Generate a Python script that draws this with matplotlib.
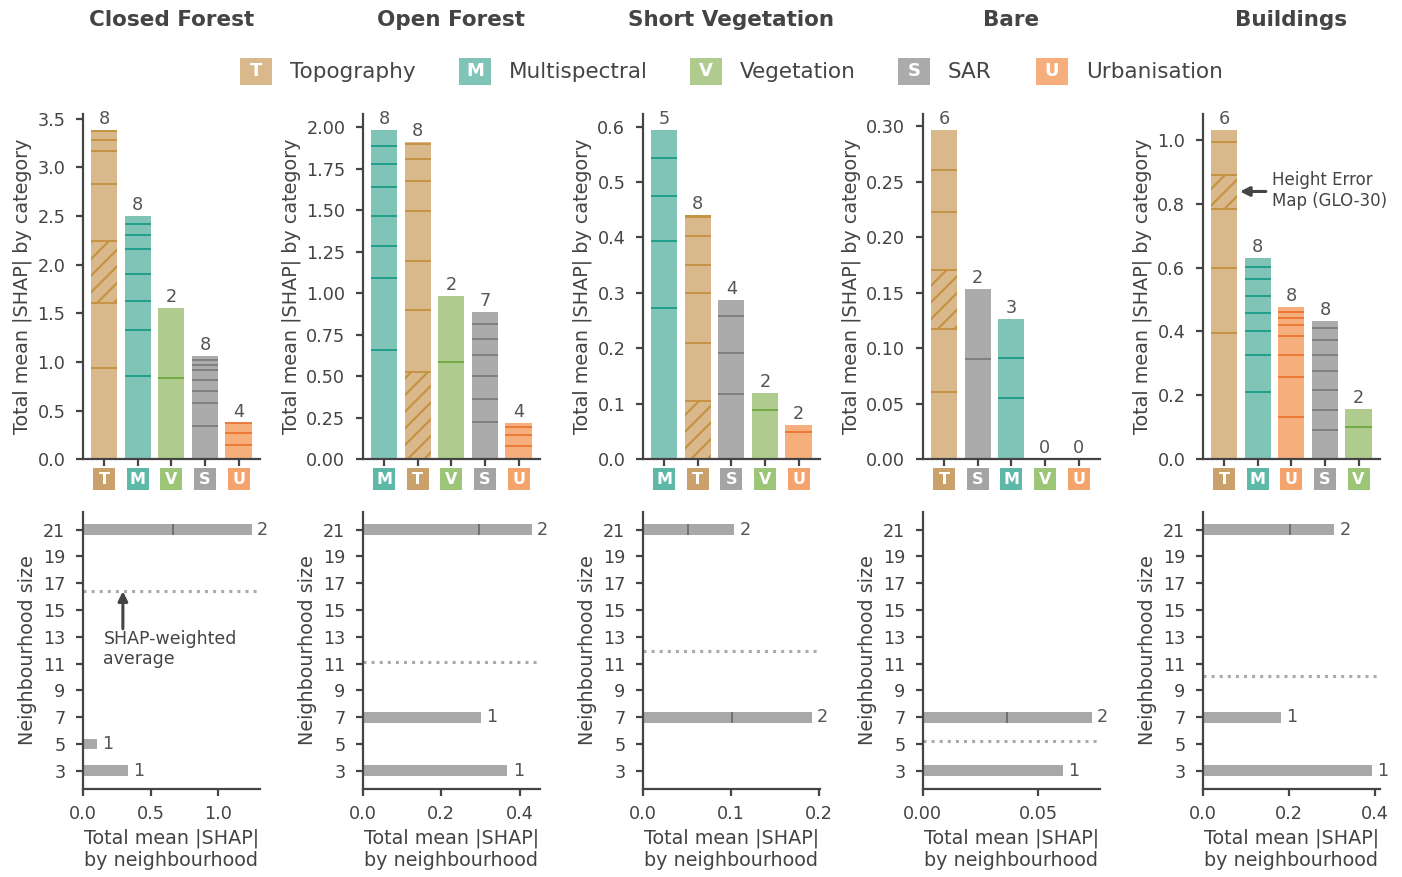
import numpy as np
import matplotlib
matplotlib.use("Agg")
import matplotlib.pyplot as plt
from matplotlib.patches import Rectangle
from matplotlib.transforms import blended_transform_factory

TXT = "#444444"
plt.rcParams.update({
    "font.family": ["DejaVu Sans"],
    "text.color": TXT, "axes.labelcolor": TXT,
    "xtick.color": TXT, "ytick.color": TXT,
    "axes.edgecolor": TXT, "axes.linewidth": 1.6,
    "xtick.major.width": 1.6, "ytick.major.width": 1.6,
    "xtick.major.size": 5, "ytick.major.size": 5,
    "xtick.major.pad": 6.5, "ytick.major.pad": 7.5,
    "xtick.labelsize": 12.7, "ytick.labelsize": 12.7,
    "axes.labelsize": 13.8,
    "hatch.linewidth": 1.5,
})

# ---------------- data ----------------
panel_titles = ["Closed Forest", "Open Forest", "Short Vegetation", "Bare", "Buildings"]
cat_letters = ["T", "M", "V", "S", "U"]
cat_names = ["Topography", "Multispectral", "Vegetation", "SAR", "Urbanisation"]

# category order per panel
order_cf = ["T", "M", "V", "S", "U"]
order_of = ["M", "T", "V", "S", "U"]
order_sv = ["M", "T", "S", "V", "U"]
order_ba = ["T", "S", "M", "V", "U"]
order_bu = ["T", "M", "U", "S", "V"]

# per-feature mean |SHAP| (stacked segments, bottom to top)
cf_T = [0.938, 0.669, 0.631, 0.590, 0.338, 0.109, 0.095, 0.008]
cf_M = [0.853, 0.474, 0.297, 0.280, 0.259, 0.137, 0.119, 0.078]
cf_V = [0.839, 0.717]
cf_S = [0.345, 0.235, 0.123, 0.116, 0.102, 0.051, 0.045, 0.044]
cf_U = [0.143, 0.130, 0.095, 0.007]

of_T = [0.524, 0.372, 0.298, 0.300, 0.180, 0.136, 0.090, 0.008]
of_M = [0.660, 0.434, 0.190, 0.180, 0.176, 0.138, 0.108, 0.094]
of_V = [0.588, 0.396]
of_S = [0.222, 0.144, 0.138, 0.126, 0.094, 0.088, 0.072]
of_U = [0.080, 0.066, 0.050, 0.020]

sv_T = [0.105, 0.104, 0.091, 0.051, 0.052, 0.034, 0.002, 0.002]
sv_M = [0.273, 0.120, 0.082, 0.069, 0.049]
sv_V = [0.089, 0.030]
sv_S = [0.117, 0.075, 0.067, 0.028]
sv_U = [0.050, 0.012]

ba_T = [0.061, 0.056, 0.053, 0.053, 0.037, 0.036]
ba_M = [0.0548, 0.0368, 0.0344]
ba_V = []
ba_S = [0.090, 0.063]
ba_U = []

bu_T = [0.396, 0.204, 0.183, 0.106, 0.105, 0.035]
bu_M = [0.210, 0.115, 0.075, 0.057, 0.054, 0.053, 0.039, 0.027]
bu_V = [0.101, 0.055]
bu_S = [0.0915, 0.0635, 0.061, 0.061, 0.050, 0.047, 0.037, 0.0225]
bu_U = [0.131, 0.125, 0.069, 0.062, 0.033, 0.023, 0.0175, 0.0155]

# hatched segment = Height Error Map (GLO-30), index within Topography stack
hatch_idx = [2, 0, 0, 2, 3]

# neighbourhood sizes and per-feature |SHAP| by neighbourhood
nb_sizes = [3, 5, 7, 9, 11, 13, 15, 17, 19, 21]
nb_cf = {21: [0.665, 0.579], 5: [0.103], 3: [0.333]}
nb_of = {21: [0.295, 0.135], 7: [0.300], 3: [0.368]}
nb_sv = {21: [0.0519, 0.0515], 7: [0.1019, 0.0898]}
nb_ba = {7: [0.0367, 0.0364], 3: [0.0607]}
nb_bu = {21: [0.202, 0.1026], 7: [0.181], 3: [0.392]}

# ---------------- styles ----------------
box_col = {"T": "#caa16b", "M": "#5db8a8", "V": "#9cc577", "S": "#a4a4a4", "U": "#f5a36d"}
bar_col = {"T": "#d9b98b", "M": "#80c4b7", "V": "#afcc8e", "S": "#ababab", "U": "#f7ae7d"}
line_col = {"T": "#c4913f", "M": "#1a9c88", "V": "#6ea83f", "S": "#7c7c7c", "U": "#ea7530"}

segs_all = [
    {"T": cf_T, "M": cf_M, "V": cf_V, "S": cf_S, "U": cf_U},
    {"T": of_T, "M": of_M, "V": of_V, "S": of_S, "U": of_U},
    {"T": sv_T, "M": sv_M, "V": sv_V, "S": sv_S, "U": sv_U},
    {"T": ba_T, "M": ba_M, "V": ba_V, "S": ba_S, "U": ba_U},
    {"T": bu_T, "M": bu_M, "V": bu_V, "S": bu_S, "U": bu_U},
]
orders = [order_cf, order_of, order_sv, order_ba, order_bu]
nbs = [nb_cf, nb_of, nb_sv, nb_ba, nb_bu]

W_PX, H_PX = 1402, 877
fig = plt.figure(figsize=(W_PX / 100, H_PX / 100), dpi=100)

ax_w_px = 177.3
top_y0, top_y1 = 459.3, 114.0
bot_y0, bot_y1 = 788.7, 511.7
XL = (-0.64, 4.64)
BW = 0.78

for p in range(5):
    left_px = 82.7 + 280 * p
    axT = fig.add_axes([left_px / W_PX, 1 - top_y0 / H_PX, ax_w_px / W_PX, (top_y0 - top_y1) / H_PX])
    axB = fig.add_axes([left_px / W_PX, 1 - bot_y0 / H_PX, ax_w_px / W_PX, (bot_y0 - bot_y1) / H_PX])

    # ---- top: stacked bars by category ----
    order = orders[p]
    segs = segs_all[p]
    for i, c in enumerate(order):
        vals = segs[c]
        b = 0.0
        for j, v in enumerate(vals):
            is_h = (c == "T" and j == hatch_idx[p])
            axT.bar(i, v, bottom=b, width=BW, color=bar_col[c],
                    edgecolor=line_col[c] if is_h else "none",
                    linewidth=0, hatch="//" if is_h else None)
            b += v
        if len(vals) > 1:
            cum = np.cumsum(vals)[:-1]
            axT.hlines(cum, i - BW / 2, i + BW / 2, colors=line_col[c], lw=1.3)
        axT.annotate(str(len(vals)), (i, sum(vals)), xytext=(0, 1.5), textcoords="offset points",
                     ha="center", va="bottom", fontsize=12.7, color="#555555")
    axT.set_xlim(*XL)
    axT.set_xticks(range(5))
    axT.set_xticklabels([])
    axT.set_ylabel("Total mean |SHAP| by category")
    for s in ("top", "right"):
        axT.spines[s].set_visible(False)
    tr = blended_transform_factory(axT.transData, axT.transAxes)
    ppu = ax_w_px / (XL[1] - XL[0])
    bw_d = 22 / ppu
    hh = 22 / (top_y0 - top_y1)
    yb = -9 / (top_y0 - top_y1) - hh
    for i, c in enumerate(order):
        axT.add_patch(Rectangle((i - bw_d / 2, yb), bw_d, hh, transform=tr,
                                facecolor=box_col[c], edgecolor="none", clip_on=False))
        axT.text(i, yb + hh / 2, c, transform=tr, ha="center", va="center",
                 color="white", fontweight="bold", fontsize=11.5, clip_on=False)

    # ---- bottom: neighbourhood bars ----
    nb = nbs[p]
    totals = []
    for size in nb_sizes:
        if size not in nb:
            continue
        vals = nb[size]
        l = 0.0
        for v in vals:
            axB.barh(size, v, left=l, height=0.8, color="#a8a8a8", linewidth=0)
            l += v
        if len(vals) > 1:
            cum = np.cumsum(vals)[:-1]
            axB.vlines(cum, size - 0.4, size + 0.4, colors="#666666", lw=1.2)
        axB.annotate(str(len(vals)), (sum(vals), size), xytext=(4, 0), textcoords="offset points",
                     ha="left", va="center", fontsize=12.7, color="#555555")
        totals.append((size, sum(vals)))
    tw = sum(t for _, t in totals)
    avg = sum(s * t for s, t in totals) / tw
    axB.axhline(avg, color="#aaaaaa", ls=":", lw=2.2)
    axB.set_ylim(1.66, 22.34)
    axB.set_yticks(nb_sizes)
    axB.set_ylabel("Neighbourhood size")
    axB.set_xlabel("Total mean |SHAP|\nby neighbourhood")
    for s in ("top", "right"):
        axB.spines[s].set_visible(False)

    if p == 0:
        axB.annotate("", xy=(0.296, avg - 0.05), xytext=(0.296, 13.6),
                     arrowprops=dict(arrowstyle="-|>", lw=2.2, color="#444444",
                                     mutation_scale=14, shrinkA=0, shrinkB=0))
        axB.text(0.153, 13.5, "SHAP-weighted\naverage", ha="left", va="top", fontsize=12.5,
                 linespacing=1.15)
    if p == 4:
        axT.annotate("", xy=(0.47, 0.838), xytext=(1.24, 0.838),
                     arrowprops=dict(arrowstyle="-|>", lw=2.2, color="#444444",
                                     mutation_scale=14, shrinkA=0, shrinkB=0))
        axT.text(1.42, 0.84, "Height Error\nMap (GLO-30)", ha="left", va="center", fontsize=12)

    fig.text((left_px + ax_w_px / 2) / W_PX, 1 - 20 / H_PX, panel_titles[p],
             ha="center", va="center", fontsize=15.5, fontweight="bold")

# ---- legend ----
leg_box_x = [240, 459, 690, 898, 1036]
for k, (c, name) in enumerate(zip(cat_letters, cat_names)):
    x0 = leg_box_x[k]
    fig.add_artist(Rectangle((x0 / W_PX, 1 - 85 / H_PX), 32 / W_PX, 27 / H_PX,
                             transform=fig.transFigure, facecolor=bar_col[c], edgecolor="none"))
    fig.text((x0 + 16) / W_PX, 1 - 71.5 / H_PX, c, ha="center", va="center",
             color="white", fontweight="bold", fontsize=13)
    fig.text((x0 + 50) / W_PX, 1 - 71.5 / H_PX, name, ha="left", va="center", fontsize=15.5)

fig.savefig("out.png", dpi=100)
